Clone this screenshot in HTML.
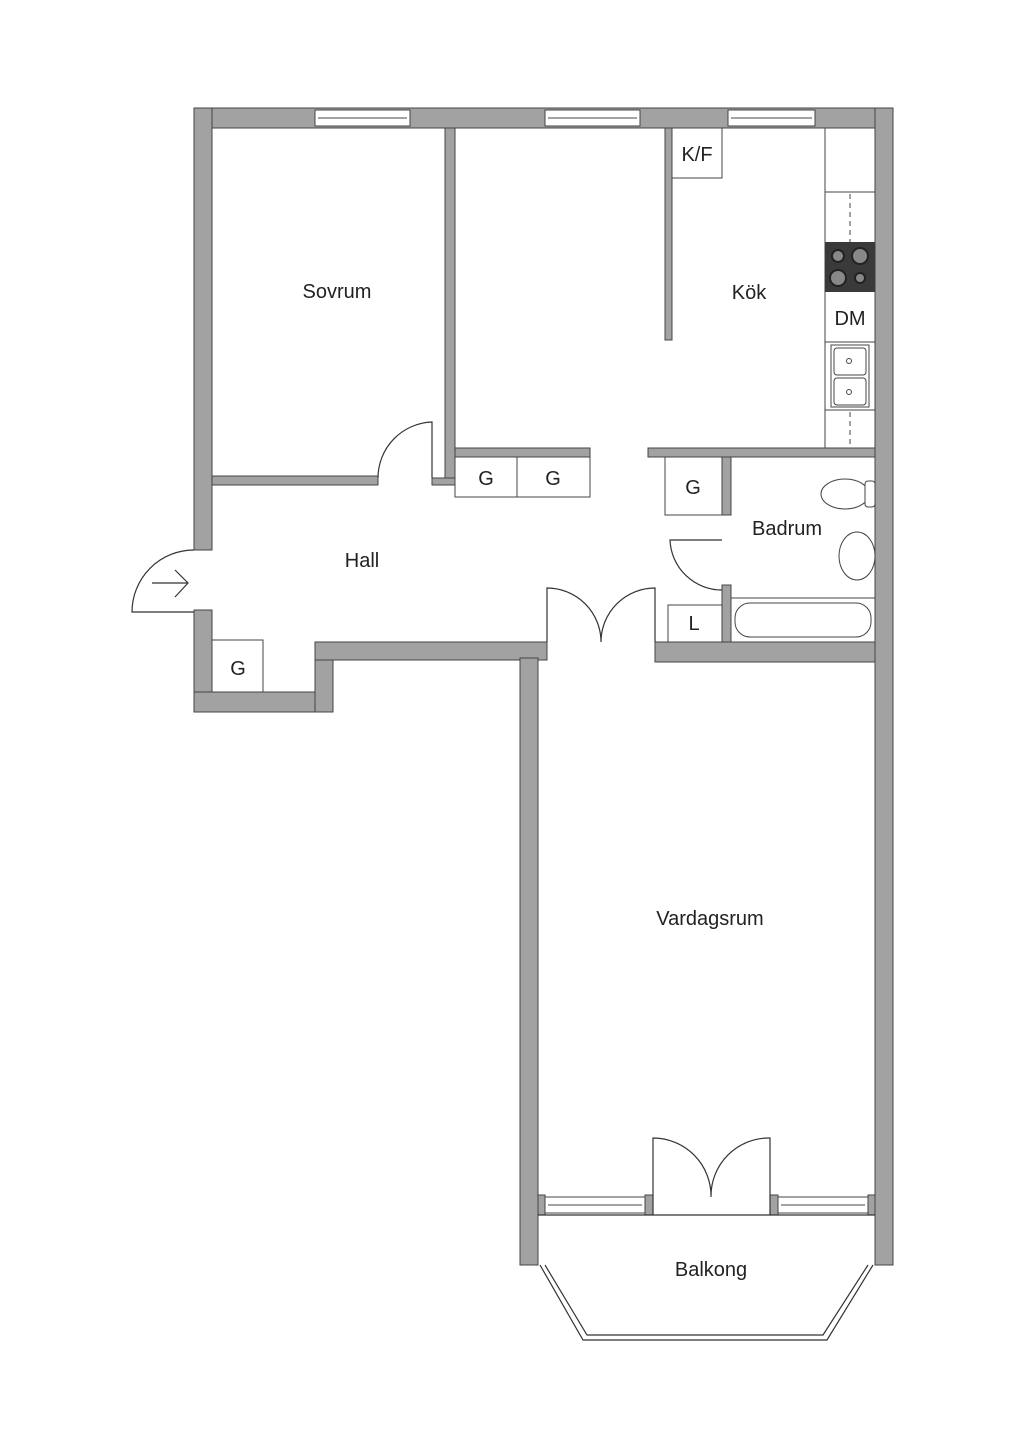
<!DOCTYPE html>
<html><head><meta charset="utf-8"><style>body{margin:0;background:#fff}svg{display:block}text{font-family:"Liberation Sans",sans-serif;fill:#222}</style></head><body>
<svg width="1024" height="1449" viewBox="0 0 1024 1449" xmlns="http://www.w3.org/2000/svg">
<g fill="#a2a2a2" stroke="#444" stroke-width="1">
<rect x="194" y="108" width="699" height="20"/>
<rect x="194" y="108" width="18" height="442"/>
<rect x="194" y="610" width="18" height="102"/>
<rect x="194" y="692" width="139" height="20"/>
<rect x="315" y="642" width="18" height="70"/>
<rect x="315" y="642" width="232" height="18"/>
<rect x="520" y="658" width="18" height="607"/>
<rect x="655" y="642" width="238" height="20"/>
<rect x="875" y="108" width="18" height="1157"/>
<rect x="445" y="128" width="10" height="357"/>
<rect x="212" y="476" width="166" height="9"/>
<rect x="432" y="478" width="23" height="7"/>
<rect x="455" y="448" width="135" height="9"/>
<rect x="648" y="448" width="227" height="9"/>
<rect x="665" y="128" width="7" height="212"/>
<rect x="722" y="457" width="9" height="58"/>
<rect x="722" y="585" width="9" height="57"/>
<rect x="538" y="1195" width="7" height="20"/>
<rect x="645" y="1195" width="8" height="20"/>
<rect x="770" y="1195" width="8" height="20"/>
<rect x="868" y="1195" width="7" height="20"/>
</g>
<g fill="#fff" stroke="#444" stroke-width="1">
<rect x="315" y="110" width="95" height="16"/><line x1="318" y1="118" x2="407" y2="118"/>
<rect x="545" y="110" width="95" height="16"/><line x1="548" y1="118" x2="637" y2="118"/>
<rect x="728" y="110" width="87" height="16"/><line x1="731" y1="118" x2="812" y2="118"/>
<rect x="545" y="1197" width="100" height="16"/><line x1="548" y1="1205" x2="642" y2="1205"/>
<rect x="778" y="1197" width="90" height="16"/><line x1="781" y1="1205" x2="865" y2="1205"/>
<rect x="455" y="457" width="62" height="40"/><rect x="517" y="457" width="73" height="40"/>
<rect x="665" y="457" width="57" height="58"/>
<rect x="668" y="605" width="54" height="37"/>
<rect x="212" y="640" width="51" height="52"/>
<rect x="672" y="128" width="50" height="50"/>
<rect x="825" y="128" width="50" height="320"/>
<line x1="825" y1="192" x2="875" y2="192"/><line x1="825" y1="342" x2="875" y2="342"/><line x1="825" y1="410" x2="875" y2="410"/>
<line x1="731" y1="598" x2="875" y2="598"/>
</g>
<g stroke="#444" stroke-dasharray="5,4" stroke-width="1"><line x1="850" y1="194" x2="850" y2="242"/><line x1="850" y1="412" x2="850" y2="448"/></g>
<rect x="825" y="242" width="50" height="50" fill="#3a3a3a"/>
<g fill="#888" stroke="#222" stroke-width="2"><circle cx="838" cy="256" r="6"/><circle cx="860" cy="256" r="8"/><circle cx="838" cy="278" r="8"/><circle cx="860" cy="278" r="5"/></g>
<g fill="#fff" stroke="#444" stroke-width="1">
<rect x="831" y="345" width="38" height="62"/><rect x="834" y="348" width="32" height="27" rx="3"/><rect x="834" y="378" width="32" height="27" rx="3"/>
<circle cx="849" cy="361" r="2.5"/><circle cx="849" cy="392" r="2.5"/>
<ellipse cx="845" cy="494" rx="24" ry="15"/><rect x="865" y="481" width="10" height="26" rx="3"/>
<ellipse cx="857" cy="556" rx="18" ry="24"/>
<rect x="735" y="603" width="136" height="34" rx="15"/>
</g>
<g fill="none" stroke="#333" stroke-width="1.2">
<path d="M432 478 V422 A56 56 0 0 0 378 478"/>
<path d="M547 642 V588 A54 54 0 0 1 601 642 A54 54 0 0 1 655 588 V642"/>
<path d="M722 540 H670 A52 52 0 0 0 722 590"/>
<path d="M653 1215 V1138 A58 58 0 0 1 711 1197 A58 58 0 0 1 770 1138 V1215"/>
<path d="M194 550 A62 62 0 0 0 132 612 H194"/>
<path d="M152 583 H187 M175 570 L188 583 L175 597"/>
<path d="M538 1215 H875"/>
<path d="M540 1265 L583 1340 H827 L873 1265"/>
<path d="M545 1265 L587 1335 H823 L868 1265"/>
</g>
<g font-size="20" text-anchor="middle">
<text x="337" y="298">Sovrum</text>
<text x="749" y="299">Kök</text>
<text x="362" y="567">Hall</text>
<text x="787" y="535">Badrum</text>
<text x="710" y="925">Vardagsrum</text>
<text x="711" y="1276">Balkong</text>
<text x="697" y="161">K/F</text>
<text x="850" y="325">DM</text>
<text x="486" y="485">G</text>
<text x="553" y="485">G</text>
<text x="693" y="494">G</text>
<text x="694" y="630">L</text>
<text x="238" y="675">G</text>
</g>
</svg>
</body></html>
